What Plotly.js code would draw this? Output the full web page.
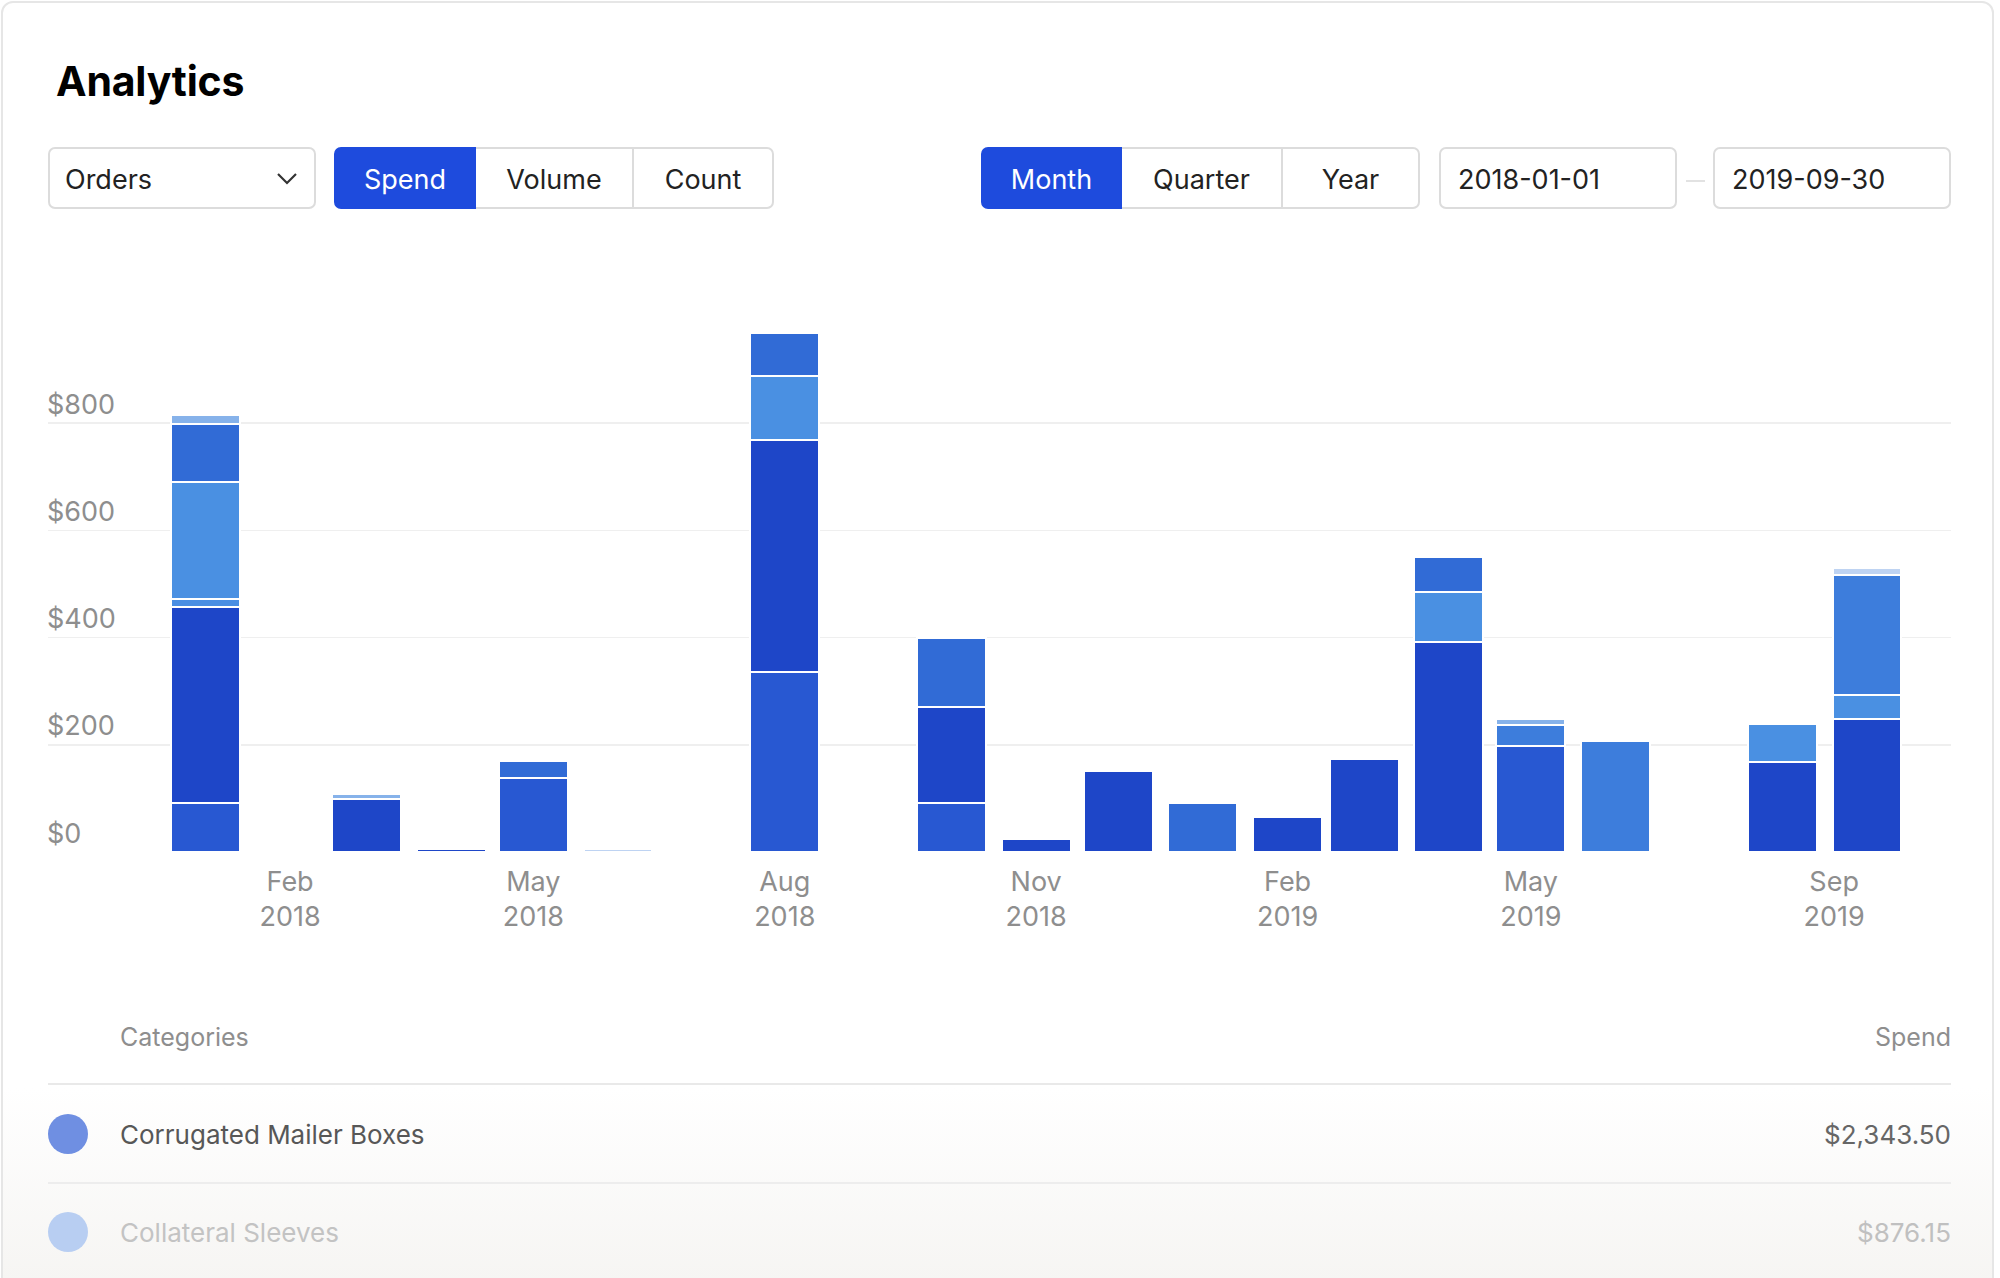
<!DOCTYPE html>
<html>
<head>
<meta charset="utf-8">
<script src="https://cdn.plot.ly/plotly-3.0.1.min.js"></script>
<style>
html,body{margin:0;padding:0;width:2000px;height:1278px;overflow:hidden;background:#fff;font-family:Inter,"Noto Sans",sans-serif;}
#card{position:absolute;left:1px;top:1px;width:1993px;height:1330px;border:2px solid #e6e6e6;border-radius:12px;box-sizing:border-box;
  background:linear-gradient(to bottom,#ffffff 0px,#ffffff 1085px,#f6f5f3 1278px);}
#chart{position:absolute;left:0;top:0;width:2000px;height:1278px;}
.ui{position:absolute;box-sizing:border-box;}
.title{left:56px;top:61px;font-size:41px;line-height:41px;font-weight:700;color:#000;letter-spacing:-0.2px;}
.btn{top:147px;height:62px;padding-top:3px;font-size:27px;color:#222;display:flex;align-items:center;justify-content:center;background:#fff;
  border-top:2px solid #dcdcdc;border-bottom:2px solid #dcdcdc;border-right:2px solid #dcdcdc;}
.btn.on{background:#1e4bdd;color:#fff;border-color:#1e4bdd;}
.first{border-left:2px solid #dcdcdc;border-radius:7px 0 0 7px;}
.last{border-radius:0 7px 7px 0;}
.field{top:147px;height:62px;padding-top:3px;font-size:27px;color:#222;display:flex;align-items:center;border:2px solid #dcdcdc;border-radius:7px;background:#fff;}
.lg{font-size:25px;line-height:25px;color:#8e8e8e;}
.row{height:40px;display:flex;align-items:center;font-size:26px;}
.dot{width:40px;height:40px;border-radius:50%;}
.hr{left:48px;width:1903px;height:2px;}
</style>
</head>
<body>
<div id="card"></div>
<div id="chart"></div>

<div class="ui title">Analytics</div>

<div class="ui field" style="left:48px;width:268px;padding-left:15px;">Orders
  <svg style="position:absolute;left:226px;top:23px" width="22" height="14" viewBox="0 0 22 14"><polyline points="2,2 11,11 20,2" fill="none" stroke="#333" stroke-width="2.2"/></svg>
</div>

<div class="ui btn on first" style="left:334px;width:142px;">Spend</div>
<div class="ui btn" style="left:476px;width:158px;">Volume</div>
<div class="ui btn last" style="left:634px;width:140px;">Count</div>

<div class="ui btn on first" style="left:981px;width:141px;">Month</div>
<div class="ui btn" style="left:1122px;width:161px;">Quarter</div>
<div class="ui btn last" style="left:1283px;width:137px;">Year</div>

<div class="ui field" style="left:1439px;width:238px;padding-left:17px;">2018-01-01</div>
<div class="ui" style="left:1686px;top:180px;width:19px;height:2px;background:#e2e2e2;"></div>
<div class="ui field" style="left:1713px;width:238px;padding-left:17px;">2019-09-30</div>

<div class="ui lg" style="left:120px;top:1025px;">Categories</div>
<div class="ui lg" style="right:49px;top:1025px;">Spend</div>
<div class="ui hr" style="top:1083px;background:#e9e9e9;"></div>

<div class="ui row" style="left:48px;top:1114px;width:1903px;">
  <div class="dot" style="background:#6f8fe2;"></div>
  <div style="margin-left:32px;color:#575757;">Corrugated Mailer Boxes</div>
  <div style="margin-left:auto;color:#666;">$2,343.50</div>
</div>
<div class="ui hr" style="top:1182px;background:#ededed;"></div>
<div class="ui row" style="left:48px;top:1212px;width:1903px;">
  <div class="dot" style="background:#b8cef2;"></div>
  <div style="margin-left:32px;color:#c3c3c3;">Collateral Sleeves</div>
  <div style="margin-left:auto;color:#c0c0c0;">$876.15</div>
</div>

<script>
// ---- data ----
const months = ["2018-01-01","2018-02-01","2018-03-01","2018-04-01","2018-05-01","2018-06-01","2018-07-01",
  "2018-08-01","2018-09-01","2018-10-01","2018-11-01","2018-12-01","2019-01-01","2019-02-01","2019-03-01",
  "2019-04-01","2019-05-01","2019-06-01","2019-07-01","2019-08-01","2019-09-01"];

const collateralSleeves     = [91,null,null,null,138,null,null,335,null,91,null,null,null,null,null,null,198,null,null,null,null];
const corrugatedMailerBoxes = [366,null,99,6.5,null,null,null,434,null,180,24,151,null,65,174,391.5,null,null,null,167,248.5];
const categoryC = [15,null,null,null,null,null,null,null,null,null,null,null,null,null,null,null,null,null,null,null,null];
const categoryD = [218,null,null,null,null,null,null,119,null,null,null,null,null,null,null,94,null,null,null,71.5,44];
const categoryE = [109,null,null,null,32.5,null,null,81,null,127.5,null,null,91,null,null,65,null,null,null,null,null];
const categoryF = [null,null,null,null,null,null,null,null,null,null,null,null,null,null,null,null,39,207.5,null,null,224.5];
const categoryG = [16,null,10,null,null,null,null,null,null,null,null,null,null,null,null,null,11,null,null,null,null];
const categoryH = [null,null,null,null,null,5,null,null,null,null,null,null,null,null,null,null,null,null,null,null,12];

// tick label positions as they appear on the reference axis
const tickDates  = ["2018-02-01","2018-05-01","2018-08-01","2018-11-01","2019-02-01","2019-05-01","2019-08-20"];
const tickMonths = ["Feb","May","Aug","Nov","Feb","May","Sep"];
const tickYears  = ["2018","2018","2018","2018","2019","2019","2019"];

const yTicks = [0,200,400,600,800];
const yTickText = ["$0","$200","$400","$600","$800"];

// ---- styling ----
const seriesList = [
  {name:"Collateral Sleeves", y:collateralSleeves, color:"#2858d2"},
  {name:"Corrugated Mailer Boxes", y:corrugatedMailerBoxes, color:"#1e46c8"},
  {name:"Category C", y:categoryC, color:"#4a8ee3"},
  {name:"Category D", y:categoryD, color:"#4a90e2"},
  {name:"Category E", y:categoryE, color:"#316bd6"},
  {name:"Category F", y:categoryF, color:"#3d7ddc"},
  {name:"Category G", y:categoryG, color:"#86b2ea"},
  {name:"Category H", y:categoryH, color:"#bed3f2"}
];
const barWidthMs = 25.2*24*3600*1000;

const traces = seriesList.map(s => ({
  type:"bar", x:months, y:s.y, name:s.name, width:barWidthMs,
  marker:{color:s.color, line:{color:"#ffffff", width:2}},
  hoverinfo:"skip", showlegend:false
}));

const layout = {
  width:2000, height:1278,
  margin:{l:48, r:49, t:316, b:426, pad:0},
  paper_bgcolor:"rgba(0,0,0,0)", plot_bgcolor:"rgba(0,0,0,0)",
  barmode:"stack",
  font:{family:"Inter, 'Noto Sans', sans-serif", color:"#8e8e8e"},
  xaxis:{type:"date", range:["2017-11-04 10:00","2019-10-01 18:00"],
    tickmode:"array", tickvals:tickDates, ticktext:tickMonths.map((m,i)=>m+"<br>"+tickYears[i]),
    tickfont:{size:27, color:"#8e8e8e"}, showgrid:false, zeroline:false, showline:false, ticks:"",
    ticklabelstandoff:11, fixedrange:true},
  yaxis:{range:[0,1000], tickmode:"array", tickvals:yTicks, ticktext:yTickText,
    tickfont:{size:27, color:"#8e8e8e"}, showgrid:true, gridcolor:"#efefef", gridwidth:1.5,
    zeroline:false, showline:false, ticks:"", ticklabelposition:"inside top", ticklabelstandoff:-4, fixedrange:true}
};

Plotly.newPlot("chart", traces, layout, {displayModeBar:false, staticPlot:true});
</script>
</body>
</html>
